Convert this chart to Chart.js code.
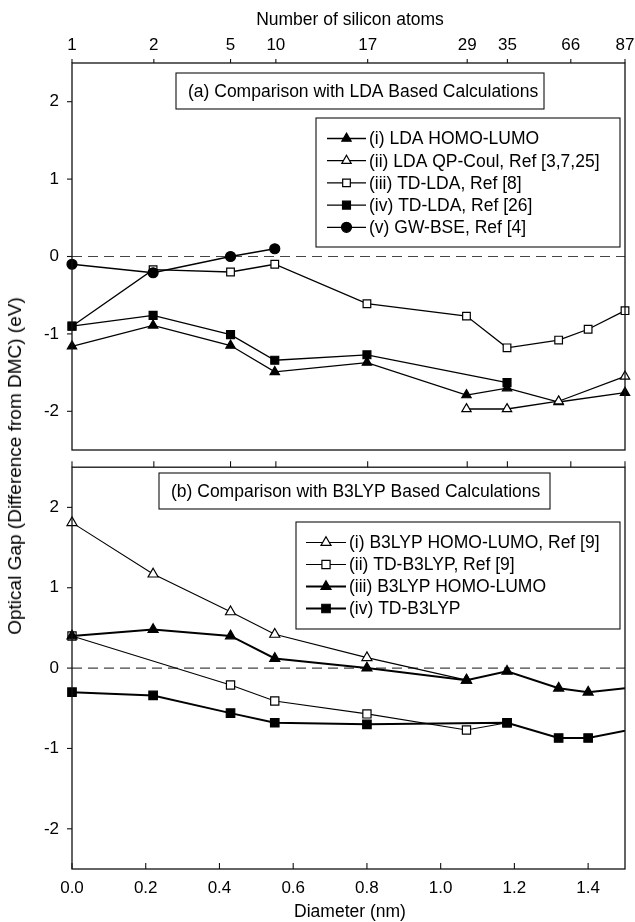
<!DOCTYPE html>
<html lang="en">
<head>
    <meta charset="UTF-8">
    <title>Optical gap vs diameter</title>
    <script src="https://cdn.jsdelivr.net/npm/chart.js"></script>
    <style>
        body {
            margin: 0;
            padding: 0;
            background-color: #fff;
            font-family: 'Liberation Sans', Arial, sans-serif;
        }

        #wrap {
            position: relative;
            width: 635px;
            height: 922px;
        }

        .panel {
            position: absolute;
            left: 0;
            width: 635px;
        }

        .axis-title {
            position: absolute;
            font-size: 17.5px;
            color: #000;
            white-space: nowrap;
            transform: translate(-50%, -50%);
        }

        .axis-title.vertical {
            font-size: 19px;
            transform: translate(-50%, -50%) rotate(-90deg);
        }
    </style>
</head>
<body>

<div id="wrap">
    <div class="panel" style="top: 0; height: 460px;"><canvas id="chartA"></canvas></div>
    <div class="panel" style="top: 460px; height: 462px;"><canvas id="chartB"></canvas></div>

    <div class="axis-title" style="left: 350px; top: 19px;">Number of silicon atoms</div>
    <div class="axis-title" style="left: 350px; top: 911px;">Diameter (nm)</div>
    <div class="axis-title vertical" style="left: 15px; top: 466px;">Optical Gap (Difference from DMC) (eV)</div>
</div>

<script>
    // axes
    const xTicks = [0, 0.2, 0.4, 0.6, 0.8, 1.0, 1.2, 1.4];
    const yTicks = [-2, -1, 0, 1, 2];
    const siDiam = [0, 0.222, 0.43, 0.553, 0.802, 1.072, 1.181, 1.353, 1.5];
    const siLabels = ['1', '2', '5', '10', '17', '29', '35', '66', '87'];

    // (a) LDA based
    const ldaHomoX = [0, 0.22, 0.43, 0.55, 0.80, 1.07, 1.18, 1.32, 1.50];
    const ldaHomoY = [-1.16, -0.89, -1.15, -1.49, -1.37, -1.79, -1.70, -1.88, -1.76];
    const qpCoulX = [1.07, 1.18, 1.32, 1.50];
    const qpCoulY = [-1.97, -1.97, -1.87, -1.55];
    const tdLda8X = [0, 0.22, 0.43, 0.55, 0.80, 1.07, 1.18, 1.32, 1.40, 1.50];
    const tdLda8Y = [-0.90, -0.17, -0.20, -0.10, -0.61, -0.77, -1.18, -1.08, -0.94, -0.70];
    const tdLda26X = [0, 0.22, 0.43, 0.55, 0.80, 1.18];
    const tdLda26Y = [-0.90, -0.76, -1.01, -1.34, -1.27, -1.63];
    const gwBseX = [0, 0.22, 0.43, 0.55];
    const gwBseY = [-0.10, -0.21, 0.00, 0.10];

    // (b) B3LYP based
    const b3HomoRefX = [0, 0.22, 0.43, 0.55, 0.80, 1.07];
    const b3HomoRefY = [1.81, 1.17, 0.70, 0.42, 0.13, -0.15];
    const tdB3RefX = [0, 0.43, 0.55, 0.80, 1.07, 1.18];
    const tdB3RefY = [0.40, -0.21, -0.41, -0.57, -0.77, -0.68];
    const b3HomoX = [0, 0.22, 0.43, 0.55, 0.80, 1.07, 1.18, 1.32, 1.40, 1.60];
    const b3HomoY = [0.40, 0.48, 0.40, 0.12, 0.00, -0.15, -0.04, -0.25, -0.30, -0.20];
    const tdB3X = [0, 0.22, 0.43, 0.55, 0.80, 1.18, 1.32, 1.40, 1.60];
    const tdB3Y = [-0.30, -0.34, -0.56, -0.68, -0.70, -0.68, -0.87, -0.87, -0.69];

    const FONT = "'Liberation Sans', Arial, sans-serif";
    Chart.defaults.font.family = FONT;
    Chart.defaults.font.size = 17;
    Chart.defaults.color = '#000';

    function pts(xs, ys) {
        return xs.map((x, i) => ({ x: x, y: ys[i] }));
    }

    function series(label, xs, ys, style, filled, radius, lw, order, clip) {
        return {
            label: label,
            data: pts(xs, ys),
            borderColor: '#000',
            borderWidth: lw,
            backgroundColor: filled ? '#000' : '#fff',
            pointStyle: style,
            pointRadius: radius,
            pointBorderWidth: 1.2,
            pointBackgroundColor: filled ? '#000' : '#fff',
            pointBorderColor: '#000',
            tension: 0,
            order: order,
            clip: clip
        };
    }

    function marker(ctx, style, r, x, y) {
        if (Chart.helpers && Chart.helpers.drawPoint) {
            Chart.helpers.drawPoint(ctx, { pointStyle: style, radius: r, borderWidth: 1.2, rotation: 0 }, x, y);
        }
    }

    // no automatic label padding, so the plot areas land where they should
    function noPad(s) {
        s.paddingTop = 0;
        s.paddingBottom = 0;
        s.paddingLeft = 0;
        s.paddingRight = 0;
    }

    // zero line, frame, tick marks, boxed title and legend
    const panelDeco = {
        id: 'panelDeco',
        beforeDatasetsDraw(chart, args, o) {
            const ctx = chart.ctx, a = chart.chartArea;
            const y0 = chart.scales.y.getPixelForValue(0);
            ctx.save();
            ctx.strokeStyle = '#444';
            ctx.lineWidth = 1.2;
            ctx.setLineDash([10, 6]);
            ctx.beginPath();
            ctx.moveTo(a.left, y0);
            ctx.lineTo(a.right, y0);
            ctx.stroke();
            ctx.restore();
        },
        afterDatasetsDraw(chart, args, o) {
            const ctx = chart.ctx, a = chart.chartArea;
            ctx.save();
            ctx.strokeStyle = '#111';
            ctx.lineWidth = 1.3;
            ctx.strokeRect(a.left, a.top, a.right - a.left, a.bottom - a.top);

            // tick marks
            ctx.lineWidth = 1.1;
            o.marks.forEach(m => {
                const s = chart.scales[m.scale];
                s.ticks.forEach(t => {
                    const p = s.getPixelForValue(t.value);
                    ctx.beginPath();
                    if (m.edge === 'top') { ctx.moveTo(p, a.top); ctx.lineTo(p, a.top - m.out); }
                    if (m.edge === 'bottom') { ctx.moveTo(p, a.bottom); ctx.lineTo(p, a.bottom + m.out); }
                    if (m.edge === 'left') { ctx.moveTo(a.left, p); ctx.lineTo(a.left - m.out, p); }
                    ctx.stroke();
                });
            });

            // boxed panel title
            const tb = o.titleBox;
            ctx.fillStyle = '#fff';
            ctx.fillRect(tb.x, tb.y, tb.w, tb.h);
            ctx.strokeRect(tb.x, tb.y, tb.w, tb.h);
            ctx.fillStyle = '#000';
            ctx.font = '17.5px ' + FONT;
            ctx.textAlign = 'left';
            ctx.textBaseline = 'middle';
            ctx.fillText(o.title, tb.x + tb.pad, tb.y + tb.h / 2 + 1);

            // legend
            const lg = o.legend;
            ctx.fillStyle = '#fff';
            ctx.fillRect(lg.x, lg.y, lg.w, lg.h);
            ctx.strokeRect(lg.x, lg.y, lg.w, lg.h);
            chart.data.datasets.forEach((ds, i) => {
                const ry = lg.row0 + i * lg.step;
                ctx.strokeStyle = '#000';
                ctx.lineWidth = ds.borderWidth;
                ctx.beginPath();
                ctx.moveTo(lg.lineX0, ry);
                ctx.lineTo(lg.lineX1, ry);
                ctx.stroke();
                ctx.lineWidth = 1.2;
                ctx.fillStyle = ds.pointBackgroundColor;
                marker(ctx, ds.pointStyle, ds.pointRadius, (lg.lineX0 + lg.lineX1) / 2, ry);
                ctx.fillStyle = '#000';
                ctx.font = '17.5px ' + FONT;
                ctx.fillText(ds.label, lg.textX, ry + 1);
            });
            ctx.restore();
        }
    };

    function baseScales(topHeight, bottomHeight, showTopLabels, showBottom) {
        return {
            x: {
                type: 'linear',
                min: 0,
                max: 1.5,
                display: showBottom,
                grid: { display: false, drawTicks: false },
                border: { display: false },
                afterBuildTicks: s => { s.ticks = xTicks.map(v => ({ value: v })); },
                afterFit: s => { s.height = bottomHeight; noPad(s); },
                ticks: { padding: 9, maxRotation: 0, autoSkip: false, callback: v => v.toFixed(1) }
            },
            x2: {
                type: 'linear',
                position: 'top',
                min: 0,
                max: 1.5,
                grid: { display: false, drawTicks: false },
                border: { display: false },
                afterBuildTicks: s => { s.ticks = siDiam.map(v => ({ value: v })); },
                afterFit: s => { s.height = topHeight; noPad(s); },
                ticks: {
                    display: showTopLabels,
                    padding: 7,
                    maxRotation: 0,
                    autoSkip: false,
                    callback: (v, i) => siLabels[i]
                }
            },
            y: {
                type: 'linear',
                min: -2.5,
                max: 2.5,
                grid: { display: false, drawTicks: false },
                border: { display: false },
                afterBuildTicks: s => { s.ticks = yTicks.map(v => ({ value: v })); },
                afterFit: s => { s.width = 72; noPad(s); },
                ticks: { padding: 13, callback: v => String(v) }
            }
        };
    }

    const clipRight = { left: false, top: false, right: 0, bottom: false };

    new Chart(document.getElementById('chartA'), {
        type: 'line',
        data: {
            datasets: [
                series('(i) LDA HOMO-LUMO', ldaHomoX, ldaHomoY, 'triangle', true, 5.4, 1.3, 3, false),
                series('(ii) LDA QP-Coul, Ref [3,7,25]', qpCoulX, qpCoulY, 'triangle', false, 5.4, 1.3, 2, false),
                series('(iii) TD-LDA, Ref [8]', tdLda8X, tdLda8Y, 'rect', false, 5.4, 1.3, 4, false),
                series('(iv) TD-LDA, Ref [26]', tdLda26X, tdLda26Y, 'rect', true, 5.6, 1.3, 0, false),
                series('(v) GW-BSE, Ref [4]', gwBseX, gwBseY, 'circle', true, 5, 1.3, 1, false)
            ]
        },
        options: {
            responsive: true,
            maintainAspectRatio: false,
            animation: false,
            layout: { padding: { left: 0, right: 10, top: 0, bottom: 10 } },
            scales: baseScales(63, 0, true, false),
            plugins: {
                legend: { display: false },
                tooltip: { enabled: false },
                panelDeco: {
                    title: '(a) Comparison with LDA Based Calculations',
                    titleBox: { x: 176, y: 73, w: 368, h: 36, pad: 12 },
                    legend: { x: 316, y: 118, w: 304, h: 129, row0: 138.5, step: 22.2, lineX0: 327, lineX1: 366, textX: 369 },
                    marks: [
                        { scale: 'x2', edge: 'top', out: 4 },
                        { scale: 'y', edge: 'left', out: 5 }
                    ]
                }
            }
        },
        plugins: [panelDeco]
    });

    new Chart(document.getElementById('chartB'), {
        type: 'line',
        data: {
            datasets: [
                series('(i) B3LYP HOMO-LUMO, Ref [9]', b3HomoRefX, b3HomoRefY, 'triangle', false, 5.8, 1.1, 2, clipRight),
                series('(ii) TD-B3LYP, Ref [9]', tdB3RefX, tdB3RefY, 'rect', false, 5.8, 1.1, 3, clipRight),
                series('(iii) B3LYP HOMO-LUMO', b3HomoX, b3HomoY, 'triangle', true, 5.8, 2, 0, clipRight),
                series('(iv) TD-B3LYP', tdB3X, tdB3Y, 'rect', true, 6, 2, 1, clipRight)
            ]
        },
        options: {
            responsive: true,
            maintainAspectRatio: false,
            animation: false,
            layout: { padding: { left: 0, right: 10, top: 0, bottom: 0 } },
            scales: baseScales(7, 53, false, true),
            plugins: {
                legend: { display: false },
                tooltip: { enabled: false },
                panelDeco: {
                    title: '(b) Comparison with B3LYP Based Calculations',
                    titleBox: { x: 159, y: 13, w: 391, h: 36, pad: 12 },
                    legend: { x: 296, y: 62, w: 324, h: 107, row0: 82.5, step: 22, lineX0: 306, lineX1: 346, textX: 349 },
                    marks: [
                        { scale: 'x2', edge: 'top', out: 6 },
                        { scale: 'x', edge: 'bottom', out: -6 },
                        { scale: 'y', edge: 'left', out: 5 }
                    ]
                }
            }
        },
        plugins: [panelDeco]
    });
</script>
</body>
</html>
